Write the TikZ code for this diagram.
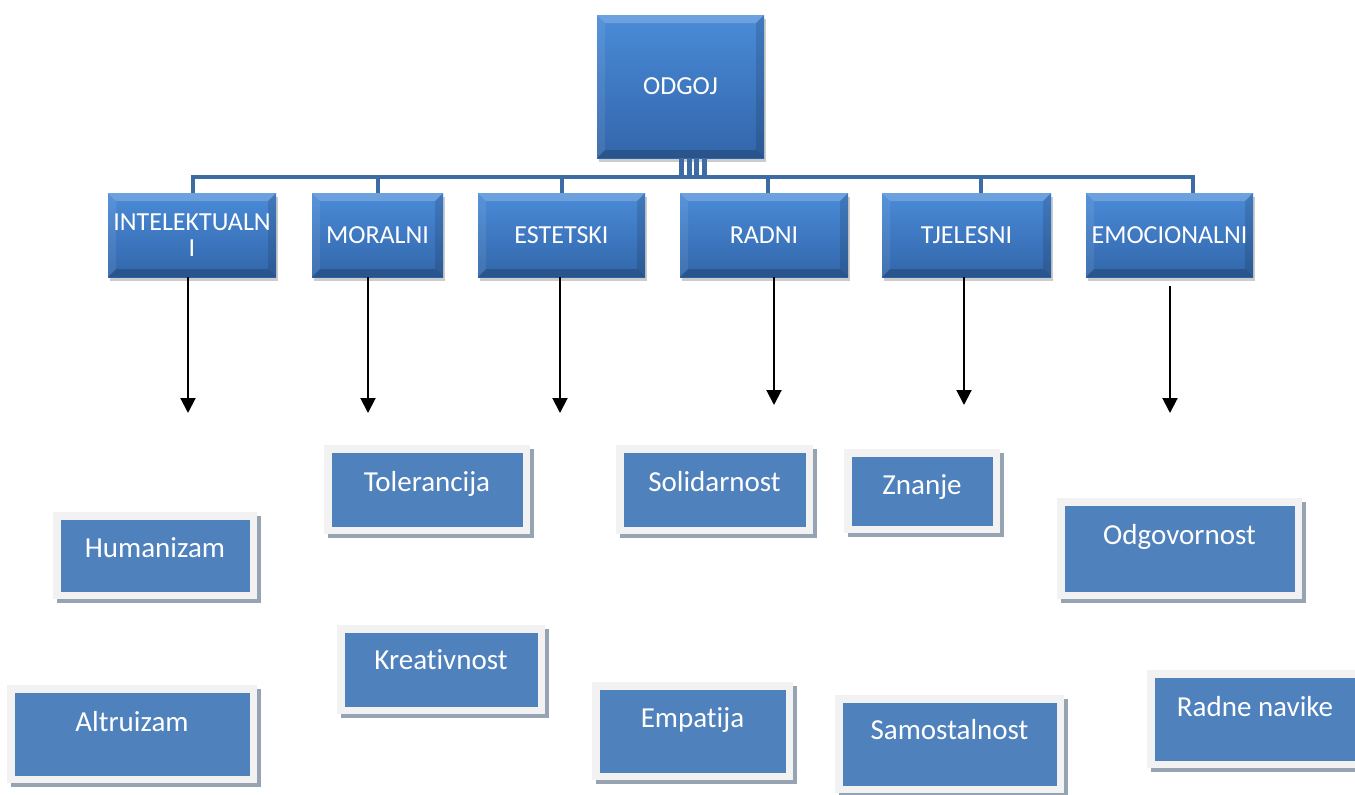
\documentclass[tikz,border=0pt]{standalone}
\usepackage{fontspec}
\setmainfont{Carlito}[Ligatures=CommonOff]
\usetikzlibrary{arrows.meta,shadows}
\definecolor{topA}{RGB}{74,139,216}
\definecolor{topB}{RGB}{50,102,170}
\definecolor{busc}{RGB}{61,107,163}
\definecolor{innerblue}{RGB}{79,129,189}
\definecolor{framegrey}{RGB}{242,242,242}
\definecolor{shadowgrey}{RGB}{149,163,179}
\tikzset{
  topbox/.style={rectangle, draw=none, top color=topA, bottom color=topB,
    text=white, font=\fontsize{26}{26}\selectfont, align=center, inner sep=0pt,
    drop shadow={shadow xshift=2pt, shadow yshift=-4pt, opacity=0.2, fill=black},
    path picture={
      \fill[white,opacity=0.20] (path picture bounding box.north west) -- (path picture bounding box.north east)
        -- ([shift={(-8pt,-8pt)}]path picture bounding box.north east) -- ([shift={(8pt,-8pt)}]path picture bounding box.north west) -- cycle;
      \fill[white,opacity=0.08] (path picture bounding box.north west) -- ([shift={(8pt,-8pt)}]path picture bounding box.north west)
        -- ([shift={(8pt,8pt)}]path picture bounding box.south west) -- (path picture bounding box.south west) -- cycle;
      \fill[black,opacity=0.12] (path picture bounding box.north east) -- ([shift={(-8pt,-8pt)}]path picture bounding box.north east)
        -- ([shift={(-8pt,8pt)}]path picture bounding box.south east) -- (path picture bounding box.south east) -- cycle;
      \fill[black,opacity=0.18] (path picture bounding box.south west) -- (path picture bounding box.south east)
        -- ([shift={(-8pt,8pt)}]path picture bounding box.south east) -- ([shift={(8pt,8pt)}]path picture bounding box.south west) -- cycle;
    }},
  lowbox/.style={rectangle, fill=framegrey, draw=none, text=white,
    font=\fontsize{29}{29}\selectfont, inner sep=0pt, text height=20pt, text depth=#1,
    drop shadow={shadow xshift=4pt, shadow yshift=-4pt, opacity=1, fill=shadowgrey},
    path picture={
      \fill[innerblue] ([shift={(7.5pt,7.5pt)}]path picture bounding box.south west)
        rectangle ([shift={(-7.5pt,-7.5pt)}]path picture bounding box.north east);
    }},
  bus/.style={draw=busc, line width=4pt},
  bar/.style={draw=busc, line width=5pt},
  arr/.style={draw=black, line width=2pt, -{Triangle[width=15pt,length=15pt]}}
}
\begin{document}
\begin{tikzpicture}[x=1pt,y=-1pt]
\useasboundingbox[fill=white] (0,0) rectangle (1355,795);

% top level
\node[topbox, minimum width=167pt, minimum height=143pt] (odgoj) at (680.5,86.5) {ODGOJ};
\node[topbox, minimum width=168pt, minimum height=84pt] (intel) at (192,235) {INTELEKTUALN\\I};
\node[topbox, minimum width=131pt, minimum height=84pt] (moral) at (377.5,235) {MORALNI};
\node[topbox, minimum width=167pt, minimum height=84pt] (estet) at (561.5,235) {ESTETSKI};
\node[topbox, minimum width=168pt, minimum height=84pt] (radni) at (764,235) {RADNI};
\node[topbox, minimum width=169pt, minimum height=84pt] (tjel) at (966.5,235) {TJELESNI};
\node[topbox, minimum width=167pt, minimum height=84pt] (emoc) at (1169.5,235) {EMOCIONALNI};

% bus
\coordinate (busl) at (193,177);
\coordinate (busr) at (1193,177);
\draw[bus] (intel.north -| busl) -- (busl) -- (busr) -- (emoc.north -| busr);
\draw[bus] ([xshift=0.5pt]moral.north) -- ([xshift=0.5pt]moral.north |- busl);
\draw[bus] ([xshift=0.5pt]estet.north) -- ([xshift=0.5pt]estet.north |- busl);
\draw[bus] ([xshift=4pt]radni.north) -- ([xshift=4pt]radni.north |- busl);
\draw[bus] ([xshift=14.5pt]tjel.north) -- ([xshift=14.5pt]tjel.north |- busl);
\foreach \dx in {0.5,9,16,24}{
  \draw[bar] ([xshift=\dx pt]odgoj.south) -- ([xshift=\dx pt, yshift=-1pt]odgoj.south |- busl);
}

% arrow ends
\coordinate (a1) at (188,413);
\coordinate (a2) at (368,413);
\coordinate (a3) at (560,413);
\coordinate (a4) at (774,405);
\coordinate (a5) at (964,405);
\coordinate (a6) at (1170,413);
\draw[arr] (intel.south -| a1) -- (a1);
\draw[arr] (moral.south -| a2) -- (a2);
\draw[arr] (estet.south -| a3) -- (a3);
\draw[arr] (radni.south -| a4) -- (a4);
\draw[arr] (tjel.south -| a5) -- (a5);
\draw[arr] ([yshift=-9pt]emoc.south -| a6) -- (a6);

% lower boxes
\node[lowbox=16.4pt, minimum width=204pt, minimum height=87pt] (human) at (155,555.5) {Humanizam};
\node[lowbox=25.4pt, minimum width=250pt, minimum height=98pt] (altru) at (132,734) {Altruizam};
\node[lowbox=16.4pt, minimum width=206pt, minimum height=89pt] (toler) at (427,489.5) {Tolerancija};
\node[lowbox=20.4pt, minimum width=208pt, minimum height=89pt] (kreat) at (441,669.5) {Kreativnost};
\node[lowbox=16.4pt, minimum width=197pt, minimum height=89pt] (solid) at (714.5,489.5) {Solidarnost};
\node[lowbox=27.4pt, minimum width=201pt, minimum height=98pt] (empat) at (692.5,731) {Empatija};
\node[lowbox=13.4pt, minimum width=156pt, minimum height=84pt] (znanje) at (922,491) {Znanje};
\node[lowbox=29.4pt, minimum width=229pt, minimum height=98pt] (samost) at (949.5,744) {Samostalnost};
\node[lowbox=28.4pt, minimum width=245pt, minimum height=101pt] (odgov) at (1179.5,548.5) {Odgovornost};
\node[lowbox=25.4pt, minimum width=216pt, minimum height=98pt] (radnen) at (1255,719) {Radne navike};
\end{tikzpicture}
\end{document}
